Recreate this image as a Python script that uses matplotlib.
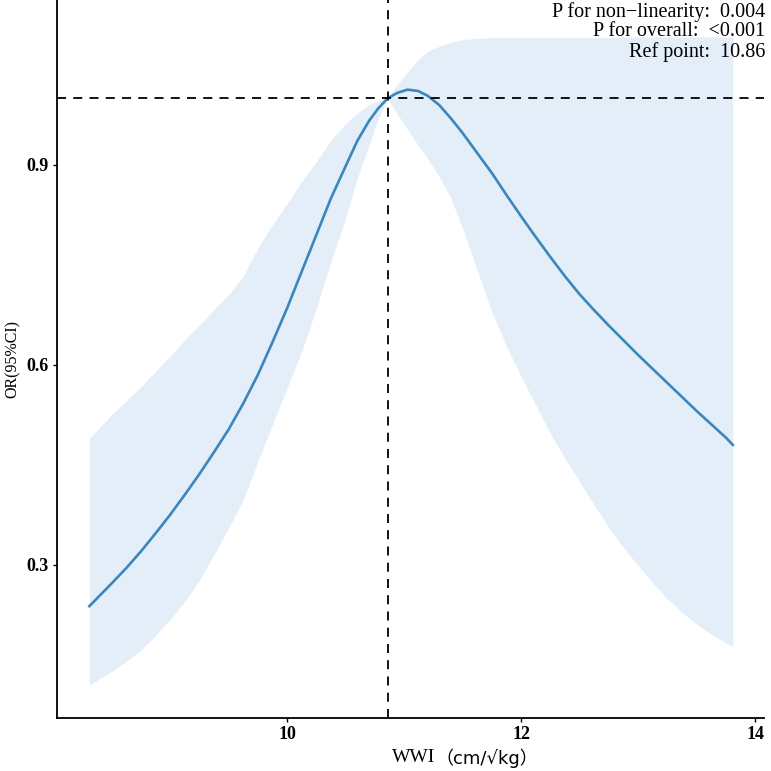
import matplotlib
matplotlib.use("Agg")
import matplotlib.pyplot as plt

# WWI values and fitted OR with 95% CI
wwi = [8.31, 8.5, 8.625, 8.75, 8.875, 9.0, 9.125, 9.25, 9.375, 9.5, 9.625,
       9.75, 9.875, 10.0, 10.125, 10.25, 10.375, 10.5, 10.6, 10.7, 10.78,
       10.86, 10.94, 11.03, 11.12, 11.2, 11.3, 11.4, 11.5, 11.625, 11.75,
       11.875, 12.0, 12.125, 12.25, 12.375, 12.5, 12.625, 12.75, 12.875,
       13.0, 13.125, 13.25, 13.375, 13.5, 13.625, 13.75, 13.81]
odds = [0.238, 0.272, 0.295, 0.32, 0.347, 0.375, 0.405, 0.436, 0.469, 0.503,
        0.542, 0.585, 0.634, 0.685, 0.74, 0.795, 0.85, 0.898, 0.936, 0.966,
        0.985, 1.0, 1.008, 1.013, 1.011, 1.004, 0.99, 0.97, 0.948, 0.918,
        0.888, 0.855, 0.823, 0.792, 0.762, 0.733, 0.706, 0.682, 0.659,
        0.637, 0.615, 0.594, 0.573, 0.552, 0.531, 0.511, 0.491, 0.48]
lower = [0.12, 0.14, 0.155, 0.172, 0.194, 0.218, 0.245, 0.277, 0.315, 0.355,
         0.398, 0.455, 0.51, 0.565, 0.62, 0.685, 0.755, 0.82, 0.88, 0.93,
         0.97, 1.0, 0.977, 0.953, 0.93, 0.91, 0.883, 0.85, 0.805, 0.742,
         0.68, 0.628, 0.583, 0.54, 0.497, 0.46, 0.425, 0.39, 0.356, 0.326,
         0.299, 0.273, 0.249, 0.229, 0.211, 0.196, 0.183, 0.177]
upper = [0.49, 0.525, 0.546, 0.567, 0.59, 0.613, 0.637, 0.66, 0.683, 0.705,
         0.733, 0.775, 0.81, 0.842, 0.875, 0.905, 0.937, 0.962, 0.978, 0.99,
         0.996, 1.0, 1.02, 1.04, 1.058, 1.07, 1.078, 1.084, 1.088, 1.09,
         1.091, 1.091, 1.091, 1.091, 1.091, 1.091, 1.091, 1.091, 1.091,
         1.092, 1.092, 1.092, 1.092, 1.092, 1.092, 1.092, 1.092, 1.092]

ref_point = 10.86
xticks = [10, 12, 14]
yticks = [0.3, 0.6, 0.9]
stats_lines = ["P for non\u2212linearity:  0.004",
               "P for overall:  <0.001",
               "Ref point:  10.86"]

serif = ["Liberation Serif", "DejaVu Serif"]

fig = plt.figure(figsize=(7.71, 7.71), dpi=100)
ax = fig.add_axes([0.074, 0.069, 0.917, 0.931])

ax.fill_between(wwi, lower, upper, color="#e3eef8", linewidth=0)
ax.plot(wwi, odds, color="#3a86bd", linewidth=1.9)

ax.axvline(ref_point, color="black", linestyle=(0, (5, 4)), linewidth=1.3)
ax.axhline(1.0, color="black", linestyle=(0, (5, 4)), linewidth=1.3)

ax.set_xlim(8.034, 14.077)
ax.set_ylim(0.0705, 1.1475)

ax.set_xticks(xticks)
ax.set_yticks(yticks)
ax.set_xticklabels([str(t) for t in xticks], fontfamily=serif, fontweight="bold", fontsize=13)
ax.set_yticklabels([str(t) for t in yticks], fontfamily=serif, fontweight="bold", fontsize=13)
ax.tick_params(direction="out", length=3, width=1, pad=3)

for side in ["top", "right"]:
    ax.spines[side].set_visible(False)
for side in ["left", "bottom"]:
    ax.spines[side].set_linewidth(1.3)

ax.set_ylabel("OR(95%CI)", fontfamily=serif, fontsize=11.5, labelpad=4)

# x label: "WWI" in serif, unit part in sans like the original
t1 = fig.text(392 / 771, 1 - 758 / 771, "WWI", ha="left", va="center",
              fontfamily=serif, fontsize=14)
ax.annotate("\uff08cm/\u221akg\uff09", xy=(1, 0.5), xycoords=t1, ha="left", va="center",
            fontfamily=["DejaVu Sans", "Noto Sans CJK SC"], fontsize=13)

for i, line in enumerate(stats_lines):
    fig.text(765 / 771, 1 - (12 + 20 * i) / 771, line, ha="right", va="center",
             fontfamily=serif, fontsize=14.5)

fig.savefig("out.png", dpi=100)
